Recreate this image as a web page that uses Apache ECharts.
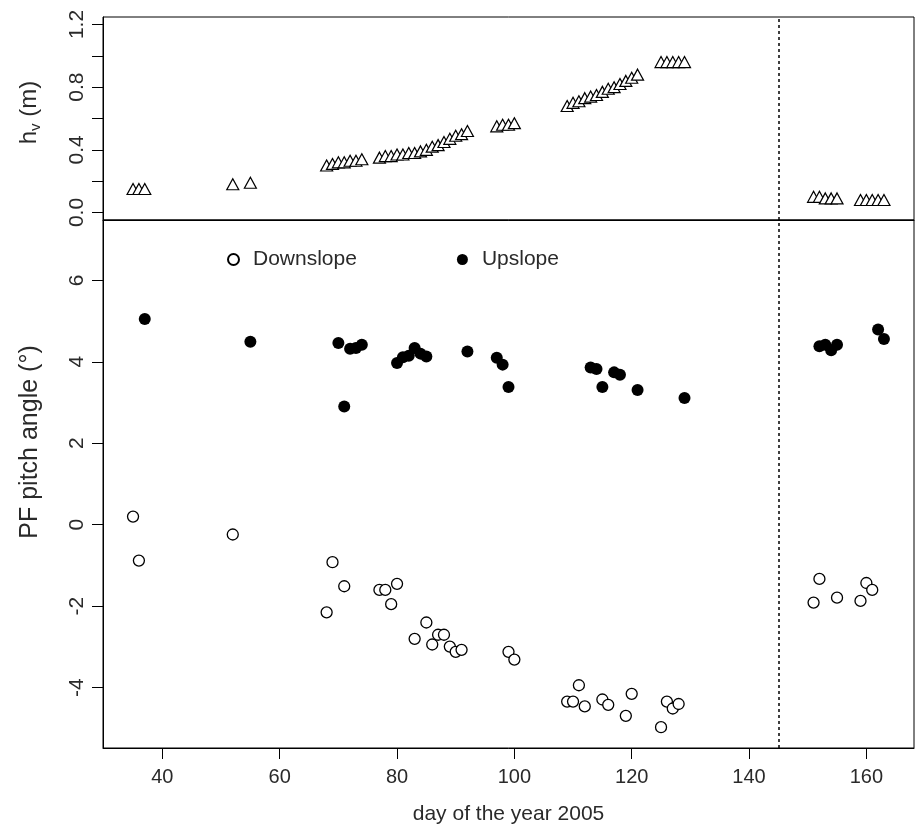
<!DOCTYPE html>
<html><head><meta charset="utf-8">
<script src="https://cdn.jsdelivr.net/npm/echarts@6/dist/echarts.min.js"></script>
<style>html,body{margin:0;padding:0;background:#fff}#c{width:915px;height:830px}</style>
</head><body><div id="c"></div>
<script>
// ---- data ----
const xTicks = [40, 60, 80, 100, 120, 140, 160];
const hvTickLabels = [0.0, 0.4, 0.8, 1.2];
const hvTicks = [0.0, 0.2, 0.4, 0.6, 0.8, 1.0, 1.2];
const pitchTicks = [-4, -2, 0, 2, 4, 6];
const dividerDay = 145;

const hvDays = [35, 36, 37, 52, 55,
  68, 69, 70, 71, 72, 73, 74,
  77, 78, 79, 80, 81, 82, 83, 84, 85, 86, 87, 88, 89, 90, 91, 92,
  97, 98, 99, 100,
  109, 110, 111, 112, 113, 114, 115, 116, 117, 118, 119, 120, 121,
  125, 126, 127, 128, 129,
  151, 152, 153, 154, 155,
  159, 160, 161, 162, 163];
const hvValues = [0.15, 0.15, 0.15, 0.18, 0.19,
  0.30, 0.31, 0.32, 0.32, 0.33, 0.33, 0.34,
  0.35, 0.36, 0.36, 0.37, 0.37, 0.38, 0.38, 0.39, 0.40, 0.42, 0.43, 0.45, 0.47, 0.49, 0.50, 0.52,
  0.55, 0.56, 0.56, 0.57,
  0.68, 0.70, 0.71, 0.73, 0.74, 0.75, 0.77, 0.79, 0.80, 0.82, 0.84, 0.86, 0.88,
  0.96, 0.96, 0.96, 0.96, 0.96,
  0.10, 0.10, 0.09, 0.09, 0.09,
  0.08, 0.08, 0.08, 0.08, 0.08];

const downDays = [35, 36, 52, 68, 69, 71, 77, 78, 79, 80, 83, 85, 86, 87, 88, 89, 90, 91,
  99, 100, 109, 110, 111, 112, 115, 116, 119, 120, 125, 126, 127, 128,
  151, 152, 155, 159, 160, 161];
const downValues = [0.20, -0.88, -0.24, -2.15, -0.92, -1.51, -1.60, -1.60, -1.95, -1.45, -2.80, -2.40, -2.94, -2.70, -2.70, -2.99, -3.12, -3.07,
  -3.12, -3.31, -4.34, -4.34, -3.94, -4.46, -4.29, -4.42, -4.69, -4.15, -4.97, -4.34, -4.51, -4.40,
  -1.91, -1.33, -1.79, -1.87, -1.43, -1.60];

const upDays = [37, 55, 70, 71, 72, 73, 74, 80, 81, 82, 83, 84, 85, 92, 97, 98, 99,
  113, 114, 115, 117, 118, 121, 129,
  152, 153, 154, 155, 162, 163];
const upValues = [5.05, 4.49, 4.46, 2.90, 4.32, 4.34, 4.42, 3.97, 4.11, 4.15, 4.34, 4.20, 4.13, 4.25, 4.10, 3.93, 3.38,
  3.86, 3.82, 3.38, 3.74, 3.68, 3.31, 3.11,
  4.38, 4.42, 4.28, 4.42, 4.79, 4.56];

// ---- chart ----
const FONT = "'Liberation Sans', Arial, sans-serif";
const TXT = '#2a2a2a';
const zip = (a, b) => a.map((v, i) => [v, b[i]]);
const chart = echarts.init(document.getElementById('c'), null, {renderer: 'canvas'});

const commonX = {
  type: 'value', min: 29.88, max: 168.12,
  splitLine: {show: false},
  axisLine: {show: true, onZero: false, lineStyle: {color: '#000', width: 1}}
};

chart.setOption({
  animation: false,
  backgroundColor: '#fff',
  textStyle: {fontFamily: FONT, color: TXT},
  legend: {
    data: ['Downslope', 'Upslope'],
    left: 222, top: 244,
    itemWidth: 11, itemHeight: 11, itemGap: 100,
    textStyle: {fontFamily: FONT, fontSize: 21, color: TXT, padding: [0, 0, 0, 9]}
  },
  grid: [
    {left: 103, top: 17, width: 811, height: 203, show: true, borderColor: '#000', borderWidth: 1},
    {left: 103, top: 220, width: 811, height: 528, show: true, borderColor: '#000', borderWidth: 1}
  ],
  xAxis: [
    Object.assign({}, commonX, {gridIndex: 0, axisTick: {show: false}, axisLabel: {show: false}}),
    Object.assign({}, commonX, {
      gridIndex: 1,
      name: 'day of the year 2005', nameLocation: 'middle', nameGap: 56,
      nameTextStyle: {fontFamily: FONT, fontSize: 21, color: TXT},
      axisTick: {show: true, length: 11, customValues: xTicks, lineStyle: {color: '#000'}},
      axisLabel: {customValues: xTicks, fontSize: 20, color: TXT, margin: 19, fontFamily: FONT}
    })
  ],
  yAxis: [
    {
      gridIndex: 0, type: 'value', min: -0.048, max: 1.248,
      splitLine: {show: false},
      axisLine: {show: true, onZero: false, lineStyle: {color: '#000'}},
      axisTick: {show: true, length: 11, customValues: hvTicks, lineStyle: {color: '#000'}},
      axisLabel: {customValues: hvTickLabels, rotate: 90, fontSize: 21, color: TXT, margin: 15,
        fontFamily: FONT, formatter: v => Number(v).toFixed(1)},
      name: '{a|h}{s|v}{a| (m)}', nameLocation: 'middle', nameGap: 60,
      nameTextStyle: {fontFamily: FONT, color: TXT, padding: [0, 0, 0, 12],
        rich: {a: {fontSize: 24, fontFamily: FONT, color: TXT, lineHeight: 28},
               s: {fontSize: 15, fontFamily: FONT, color: TXT, lineHeight: 28, verticalAlign: 'bottom', padding: [9, 0, 0, 0]}}}
    },
    {
      gridIndex: 1, type: 'value', min: -5.48, max: 7.48,
      splitLine: {show: false},
      axisLine: {show: true, onZero: false, lineStyle: {color: '#000'}},
      axisTick: {show: true, length: 11, customValues: pitchTicks, lineStyle: {color: '#000'}},
      axisLabel: {customValues: pitchTicks, rotate: 90, fontSize: 21, color: TXT, margin: 15, fontFamily: FONT},
      name: 'PF pitch angle (°)', nameLocation: 'middle', nameGap: 60,
      nameTextStyle: {fontFamily: FONT, fontSize: 25, color: TXT, padding: [0, 0, 0, 84]}
    }
  ],
  series: [
    {
      name: 'hv', type: 'scatter', xAxisIndex: 0, yAxisIndex: 0,
      symbol: 'triangle', symbolSize: [12, 11],
      itemStyle: {color: '#fff', borderColor: '#000', borderWidth: 1.2, opacity: 1},
      data: zip(hvDays, hvValues),
      markLine: {silent: true, symbol: ['none', 'none'], label: {show: false},
        lineStyle: {type: [3, 3], color: '#000', width: 1.5}, data: [{xAxis: dividerDay}]}
    },
    {
      name: 'Downslope', type: 'scatter', xAxisIndex: 1, yAxisIndex: 1,
      symbol: 'circle', symbolSize: 11,
      itemStyle: {color: '#fff', borderColor: '#000', borderWidth: 1.3, opacity: 1},
      data: zip(downDays, downValues),
      markLine: {silent: true, symbol: ['none', 'none'], label: {show: false},
        lineStyle: {type: [3, 3], color: '#000', width: 1.5}, data: [{xAxis: dividerDay}]}
    },
    {
      name: 'Upslope', type: 'scatter', xAxisIndex: 1, yAxisIndex: 1,
      symbol: 'circle', symbolSize: 12,
      itemStyle: {color: '#000', borderColor: '#000', borderWidth: 0, opacity: 1},
      data: zip(upDays, upValues)
    }
  ]
});
</script>
</body></html>
